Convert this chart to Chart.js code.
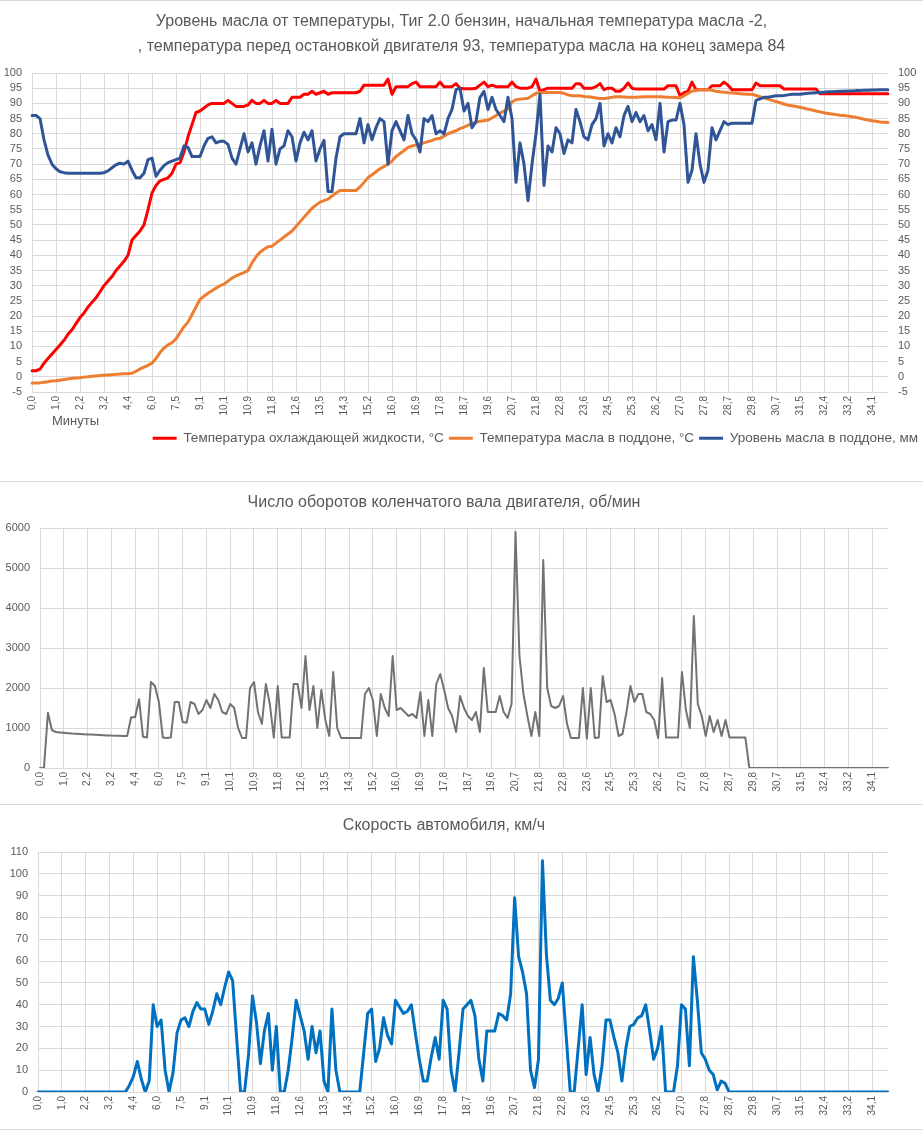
<!DOCTYPE html>
<html>
<head>
<meta charset="utf-8">
<script src="https://cdn.jsdelivr.net/npm/chart.js@4/dist/chart.umd.min.js"></script>
<style>
  body { margin: 0; background: #fff; }
  .page { position: relative; width: 923px; height: 1130px; }
  .sep { position: absolute; left: 0; width: 923px; height: 1px; background: #d9d9d9; }
  canvas { position: absolute; left: 0; }
</style>
</head>
<body>
<div class="page">
  <div class="sep" style="top:0"></div>
  <canvas id="tempChart" width="923" height="480" style="top:1px"></canvas>
  <div class="sep" style="top:481px"></div>
  <canvas id="rpmChart" width="923" height="322" style="top:482px"></canvas>
  <div class="sep" style="top:804px"></div>
  <canvas id="speedChart" width="923" height="324" style="top:805px"></canvas>
  <div class="sep" style="top:1129px"></div>
</div>
<script>
// minute marks shown on the x axis, one every 6 samples
const minuteTicks = ['0,0','1,0','2,2','3,2','4,4','6,0','7,5','9,1','10,1','10,9','11,8','12,6',
  '13,5','14,3','15,2','16,0','16,9','17,8','18,7','19,6','20,7','21,8','22,8','23,6',
  '24,5','25,3','26,2','27,0','27,8','28,7','29,8','30,7','31,5','32,4','33,2','34,1'];
const samplesPerTick = 6;

// coolant temperature, °C
const coolantTemp = [
  2, 2, 2.5, 4.5, 6, 7.5,
  9, 10.5, 12, 14, 15.5, 17.5,
  19.5, 21, 23, 24.5, 26, 28,
  30, 31.5, 33, 35, 36.5, 38,
  40, 45, 46.5, 48, 50, 55,
  60.5, 63, 64.5, 65, 65.5, 67,
  70, 70.5, 74, 79, 83, 87,
  87.5, 88.5, 89.5, 90, 90, 90,
  90, 91, 90, 89, 89, 89,
  89.5, 91, 90, 90, 91, 90,
  90, 91, 90, 90, 90, 92,
  92, 92, 93, 93, 94, 93,
  93.5, 94, 93, 93.5, 93.5, 93.5,
  93.5, 93.5, 93.5, 93.5, 94, 96,
  96, 96, 96, 96, 96, 98,
  93, 95.5, 95.5, 95.5, 95.5, 96.5,
  97, 95.5, 95.5, 95.5, 95.5, 95.5,
  97, 95.5, 95.5, 95.5, 96.5, 95,
  94.8, 94.8, 94.8, 95, 96, 97,
  95.5, 96, 95.5, 95.5, 95.5, 95.5,
  97, 95.5, 95, 95, 95, 95.5,
  98, 94, 94.5, 95, 95, 95,
  95, 95, 95, 95, 96.5, 96.5,
  95, 95, 95, 95.5, 96.5, 94.5,
  95, 95, 94, 94, 95, 96.7,
  95, 94.7, 94.7, 94.7, 94.7, 94.7,
  94.7, 94.7, 94.7, 95.8, 95.8, 95.8,
  92.5, 93.5, 94, 97, 94.5, 94.5,
  94.5, 94.5, 95.8, 95.8, 95.8, 97,
  96, 94.5, 94.5, 94.5, 94.5, 94.5,
  94.5, 96.7, 95.8, 95.8, 95.8, 95.8,
  95.8, 95.8, 94.7, 94.7, 94.7, 94.7,
  94.7, 94.7, 94.7, 94.7, 94.7, 93.2,
  93.2, 93.2, 93.2, 93.2, 93.2, 93.2,
  93.2, 93.2, 93.2, 93.2, 93.2, 93.2,
  93.2, 93.2, 93.2, 93.2, 93.2
];

// oil temperature in the sump, °C
const oilTemp = [
  -2, -2, -2, -1.8, -1.6, -1.4,
  -1.3, -1.1, -0.9, -0.7, -0.5, -0.4,
  -0.3, -0.1, 0, 0.2, 0.3, 0.4,
  0.5, 0.6, 0.7, 0.8, 0.9, 1,
  1, 1.2, 1.8, 2.6, 3.2, 3.8,
  4.5, 6, 8, 9.5, 10.5, 11.2,
  12.5, 14.5, 16.5, 18, 20.5, 23,
  25.5, 26.5, 27.5, 28.3, 29.2, 30,
  30.5, 31.5, 32.5, 33.2, 33.8, 34.3,
  35, 37.5, 39.5, 41, 42, 42.8,
  43, 44, 45, 46, 47, 48,
  49.5, 51, 52.5, 54, 55.5, 56.5,
  57.5, 58, 58.5, 59.5, 60.5, 61.3,
  61.3, 61.3, 61.3, 61.3, 62.5, 64,
  65.5, 66.5, 67.5, 68.5, 69.2, 70,
  71, 72.5, 73.5, 74.5, 75.5, 76,
  76.3, 76.6, 77, 77.4, 77.8, 78.3,
  78.5, 79.2, 80, 80.5, 81, 81.7,
  82.2, 82.8, 83.3, 83.8, 84.1, 84.3,
  84.5, 85.2, 86, 86.8, 87.5, 88.2,
  90.5, 91.2, 91.4, 91.5, 91.7, 92.5,
  93.3, 93.6, 93.6, 93.6, 93.6, 93.6,
  93.6, 93.3, 92.8, 92.5, 92.5, 92.5,
  92.3, 92.2, 92, 91.8, 91.6, 91.6,
  91.8, 92, 92.2, 92.2, 92.1, 92,
  92, 92, 92.1, 92.2, 92.2, 92.2,
  92.2, 92.2, 92.1, 92, 92, 91.9,
  91.8, 92.5, 93.3, 94, 94.3, 94.5,
  94.5, 94.5, 94.3, 94, 93.8, 93.7,
  93.5, 93.4, 93.3, 93.2, 93.1, 93,
  93, 92.6, 92.2, 91.8, 91.4, 91,
  90.6, 90.2, 89.8, 89.4, 89.2, 89,
  88.7, 88.4, 88.1, 87.8, 87.5, 87.2,
  86.9, 86.7, 86.5, 86.3, 86.1, 86,
  85.8, 85.6, 85.4, 85.1, 84.8, 84.5,
  84.3, 84.1, 83.9, 83.8, 83.7
];

// oil level in the sump, mm
const oilLevel = [
  86, 86, 85, 78, 73, 70,
  68.5, 67.5, 67.2, 67, 67, 67,
  67, 67, 67, 67, 67, 67,
  67.2, 67.8, 68.8, 69.8, 70.3, 70,
  71, 68, 65.5, 65.5, 67, 71.5,
  72, 66, 68, 69.5, 70.5, 71,
  71.5, 72, 76, 75.5, 72.5, 72.5,
  72.5, 76, 78.5, 79, 77, 77.5,
  77.5, 76.5, 72, 70, 75, 80,
  74, 77, 70, 76, 81, 71,
  81.5, 70, 75, 76, 81, 79,
  71, 77, 80.5, 78, 81, 71,
  75, 77.8, 61, 61, 72, 79,
  80, 80, 80, 80, 85, 77,
  83, 78, 82, 85, 84, 70,
  81, 84, 81, 78, 86, 80,
  78, 74, 85, 84, 86, 80,
  81, 80, 85, 88, 94.5, 95,
  87.5, 90, 82, 84, 92, 94,
  88, 92, 88, 86, 84, 92,
  85, 64, 77, 70, 58, 70,
  80, 93, 63, 76, 74, 82,
  80, 73.5, 78, 77, 88, 84,
  79, 78, 83, 85, 90, 76,
  80, 77, 82, 79, 86, 89,
  84, 87, 84, 86, 81, 83,
  78, 90, 74, 84, 84.5, 84.5,
  90, 83, 64, 68, 80, 70,
  64, 68, 82, 78, 81, 84,
  83, 83.5, 83.5, 83.5, 83.5, 83.5,
  83.5, 91, 91.5, 92, 92, 92.3,
  92.5, 92.5, 92.6, 92.8, 93, 93,
  93, 93.2, 93.3, 93.4, 93.5, 93.6,
  93.7, 93.8, 93.8, 93.9, 94, 94,
  94.1, 94.1, 94.2, 94.2, 94.3, 94.3,
  94.4, 94.4, 94.5, 94.5, 94.5
];

// engine speed, rpm
const engineRpm = [
  0, 0, 1380, 950, 900, 890,
  880, 870, 860, 855, 850, 845,
  840, 835, 830, 825, 820, 815,
  810, 808, 805, 800, 800, 1270,
  1270, 1720, 780, 760, 2150, 2050,
  1650, 760, 750, 760, 1650, 1650,
  1150, 1130, 1650, 1600, 1350, 1450,
  1700, 1500, 1850, 1700, 1400, 1350,
  1600, 1500, 1000, 750, 750, 2000,
  2150, 1400, 1100, 2100, 1600, 760,
  2050, 760, 760, 760, 2100, 2100,
  1500, 2800, 1450, 2050, 1000, 1950,
  1200, 800, 2400, 1000, 750, 750,
  750, 750, 750, 750, 1850, 2000,
  1700, 800, 1850, 1500, 1300, 2800,
  1450, 1500, 1400, 1300, 1350, 1250,
  1900, 800, 1700, 800, 2100, 2350,
  1950, 1500, 1300, 900, 1800, 1500,
  1300, 1200, 1400, 900, 2500, 1400,
  1400, 1400, 1800, 1400, 1250, 1600,
  5900, 2800, 1850, 1300, 800, 1400,
  800, 5200, 2000, 1550, 1500, 1550,
  1800, 1100, 750, 750, 750, 2000,
  740, 2000, 750, 760, 2300, 1650,
  1700, 1350, 800, 850, 1400, 2050,
  1650, 1850, 1850, 1400, 1350, 1200,
  750, 2250, 760, 760, 760, 760,
  2400, 1450, 1000, 3800, 1600, 1300,
  800, 1300, 900, 1200, 800, 1200,
  760, 760, 760, 760, 760, 0,
  0, 0, 0, 0, 0, 0,
  0, 0, 0, 0, 0, 0,
  0, 0, 0, 0, 0, 0,
  0, 0, 0, 0, 0, 0,
  0, 0, 0, 0, 0, 0,
  0, 0, 0, 0, 0
];

// vehicle speed, km/h
const vehicleSpeed = [
  0, 0, 0, 0, 0, 0,
  0, 0, 0, 0, 0, 0,
  0, 0, 0, 0, 0, 0,
  0, 0, 0, 0, 0, 3,
  7, 14, 6, 0, 5, 40,
  30, 33, 10, 0, 9, 27,
  33, 34, 30, 37, 41, 38,
  38, 31, 37, 45, 40, 48,
  55, 51, 25, 0, 0, 17,
  44, 32, 13, 28, 36, 10,
  30, 0, 0, 10, 25, 42,
  35, 28, 15, 30, 18, 28,
  5, 0, 38, 10, 0, 0,
  0, 0, 0, 0, 18, 36,
  38, 14, 20, 34, 26, 22,
  42, 39, 36, 37, 40, 27,
  15, 5, 5, 16, 25, 15,
  42, 38, 10, 0, 18, 38,
  40, 42, 35, 15, 5, 28,
  28, 28, 36, 35, 33, 45,
  89, 62, 55, 45, 10, 2,
  15, 106, 63, 42, 40, 43,
  50, 25, 0, 0, 20, 40,
  8, 25, 8, 0, 12, 33,
  33, 25, 18, 5, 20, 30,
  31, 34, 35, 40, 28, 15,
  20, 30, 0, 0, 0, 12,
  40, 38, 12, 62, 42, 18,
  15, 10, 8, 1, 5, 4,
  0, 0, 0, 0, 0, 0,
  0, 0, 0, 0, 0, 0,
  0, 0, 0, 0, 0, 0,
  0, 0, 0, 0, 0, 0,
  0, 0, 0, 0, 0, 0,
  0, 0, 0, 0, 0, 0,
  0, 0, 0, 0, 0
];

// one category per sample, only every 6th carries a minute label
const categories = coolantTemp.map((_, i) => i % samplesPerTick === 0 ? minuteTicks[i / samplesPerTick] : '');

const TEXT = '#595959';
const GRID = '#d9d9d9';
Chart.defaults.font.family = "'Liberation Sans', Arial, sans-serif";
Chart.defaults.color = TEXT;

// shared x axis: vertical grid only at labelled minutes
function minuteAxis(height) {
    return {
        type: 'category',
        offset: false,
        border: { display: false },
        grid: {
            drawTicks: false,
            color: c => (c.index % samplesPerTick === 0 ? GRID : 'rgba(0,0,0,0)')
        },
        ticks: { autoSkip: false, minRotation: 90, maxRotation: 90, padding: 4, font: { size: 10 } },
        afterFit: s => { s.height = height; }
    };
}

function valueAxis(min, max, step, width, position) {
    return {
        position: position || 'left',
        min: min, max: max,
        border: { display: false },
        grid: { color: GRID, drawTicks: false, display: position !== 'right' },
        ticks: { stepSize: step, autoSkip: false, padding: 10, font: { size: 11 }, callback: v => String(v) },
        afterFit: s => { s.width = width; }
    };
}

function lineSet(label, data, color, width, order, axis) {
    return {
        label: label, data: data, yAxisID: axis || 'y', order: order,
        borderColor: color, backgroundColor: color, borderWidth: width,
        pointRadius: 0, tension: 0, borderJoinStyle: 'round', borderCapStyle: 'round'
    };
}

// "Минуты" caption under the first chart's x axis
const minutesCaption = {
    id: 'minutesCaption',
    afterDraw(chart) {
        const ctx = chart.ctx;
        ctx.save();
        ctx.font = "13px 'Liberation Sans', Arial, sans-serif";
        ctx.fillStyle = TEXT;
        ctx.textBaseline = 'middle';
        ctx.fillText('Минуты', 52, 420);
        ctx.restore();
    }
};

// 1. Temperatures and oil level
new Chart(document.getElementById('tempChart'), {
    type: 'line',
    data: {
        labels: categories,
        datasets: [
            lineSet('Температура охлаждающей жидкости, °C', coolantTemp, '#FF0000', 3, 2),
            lineSet('Температура масла в поддоне, °C', oilTemp, '#ED7D31', 3, 1),
            lineSet('Уровень масла в поддоне, мм', oilLevel, '#2F5597', 3, 0)
        ]
    },
    options: {
        responsive: false,
        animation: false,
        devicePixelRatio: 1,
        layout: { padding: { left: 0, right: 0, top: 0, bottom: 26 } },
        scales: {
            x: minuteAxis(34.5),
            y: valueAxis(-5, 100, 5, 32),
            y2: valueAxis(-5, 100, 5, 35, 'right')
        },
        plugins: {
            title: {
                display: true,
                text: ['Уровень масла от температуры, Тиг 2.0 бензин, начальная температура масла -2,',
                       ', температура перед остановкой двигателя 93, температура масла на конец замера 84'],
                color: TEXT,
                font: { size: 16, weight: 'normal', lineHeight: 1.5625 },
                padding: { top: 8.5, bottom: 13.5 }
            },
            legend: {
                position: 'bottom',
                align: 'end',
                labels: {
                    boxWidth: 24, boxHeight: 3, padding: 5,
                    font: { size: 13.5 }, color: TEXT,
                    sort: (a, b) => a.datasetIndex - b.datasetIndex,
                    generateLabels: chart => Chart.defaults.plugins.legend.labels.generateLabels(chart)
                        .map(item => Object.assign(item, { lineWidth: 0 }))
                }
            },
            tooltip: { enabled: false }
        }
    },
    plugins: [minutesCaption]
});

// 2. Engine speed
new Chart(document.getElementById('rpmChart'), {
    type: 'line',
    data: {
        labels: categories,
        datasets: [lineSet('Число оборотов', engineRpm, '#767171', 2, 0)]
    },
    options: {
        responsive: false,
        animation: false,
        devicePixelRatio: 1,
        layout: { padding: { left: 0, right: 35, top: 0, bottom: 0 } },
        scales: {
            x: minuteAxis(36),
            y: valueAxis(0, 6000, 1000, 40)
        },
        plugins: {
            title: {
                display: true,
                text: 'Число оборотов коленчатого вала двигателя, об/мин',
                color: TEXT,
                font: { size: 16, weight: 'normal', lineHeight: 1.2 },
                padding: { top: 11.4, bottom: 15.4 }
            },
            legend: { display: false },
            tooltip: { enabled: false }
        }
    }
});

// 3. Vehicle speed
new Chart(document.getElementById('speedChart'), {
    type: 'line',
    data: {
        labels: categories,
        datasets: [lineSet('Скорость', vehicleSpeed, '#0070C0', 3, 0)]
    },
    options: {
        responsive: false,
        animation: false,
        devicePixelRatio: 1,
        layout: { padding: { left: 0, right: 35, top: 0, bottom: 0 } },
        scales: {
            x: minuteAxis(37),
            y: valueAxis(0, 110, 10, 38)
        },
        plugins: {
            title: {
                display: true,
                text: 'Скорость автомобиля, км/ч',
                color: TEXT,
                font: { size: 16, weight: 'normal', lineHeight: 1.2 },
                padding: { top: 11.4, bottom: 16.4 }
            },
            legend: { display: false },
            tooltip: { enabled: false }
        }
    }
});
</script>
</body>
</html>
